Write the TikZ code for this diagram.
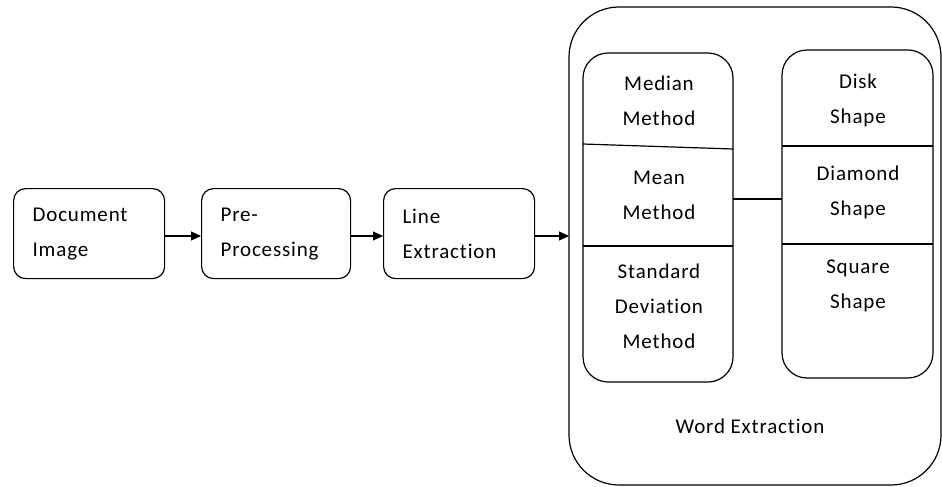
\documentclass[tikz,border=0pt]{standalone}
\usepackage{fontspec}
\setmainfont[Ligatures={NoCommon,NoRare,NoDiscretionary},LetterSpace=4]{Carlito}
\usetikzlibrary{arrows.meta}
\begin{document}
\begin{tikzpicture}[x=1pt,y=-1pt,
  every node/.style={font=\fontsize{21}{35}\selectfont},
  stepbox/.style={draw, line width=1.2pt, rounded corners=12pt, minimum height=90pt,
     text width=111pt, inner xsep=19pt, align=left, anchor=north west},
  arr/.style={line width=1.2pt, -{Triangle[length=10pt,width=9pt]}},
  ln/.style={line width=1.2pt}]
\useasboundingbox (0,0) rectangle (942,487);
\node[stepbox, text width=113pt] (doc) at (13,188) {Document\\Image};
\node[stepbox] (pre) at (201,188) {Pre-\\Processing};
\node[stepbox, text width=113pt] (line) at (383,188) {Line\\Extraction};
% big box
\draw[ln, rounded corners=50pt] (569,7) rectangle (941,485);
\coordinate (big) at (569,236);
\node (we) at (750,426) {Word Extraction};
% left inner
\draw[ln, rounded corners=25pt] (583,53) rectangle (733,382);
\draw[ln] (583,144) -- (733,149);
\draw[ln] (583,246) -- (733,246);
% right inner
\draw[ln, rounded corners=25pt] (782,50) rectangle (933,378);
\draw[ln] (782,146) -- (933,146);
\draw[ln] (782,244) -- (933,244);
\coordinate (cl) at (733,199);
\coordinate (cr) at (782,199);
\draw[ln] (cl) -- (cr);
\begin{scope}[every node/.style={font=\fontsize{21}{35}\selectfont, align=center}]
\node (median) at (659,101) {Median\\Method};
\node (mean) at (659,195) {Mean\\Method};
\node (std) at (659,306) {Standard\\Deviation\\Method};
\node (disk) at (858,100) {Disk\\Shape};
\node (diamond) at (858,192) {Diamond\\Shape};
\node (square) at (858,286) {Square\\Shape};
\end{scope}
\draw[arr] (doc.east |- 0,236) -- (pre.west |- 0,236);
\draw[arr] (pre.east |- 0,236) -- (line.west |- 0,236);
\draw[arr] (line.east |- 0,236) -- (big);
\end{tikzpicture}
\end{document}
